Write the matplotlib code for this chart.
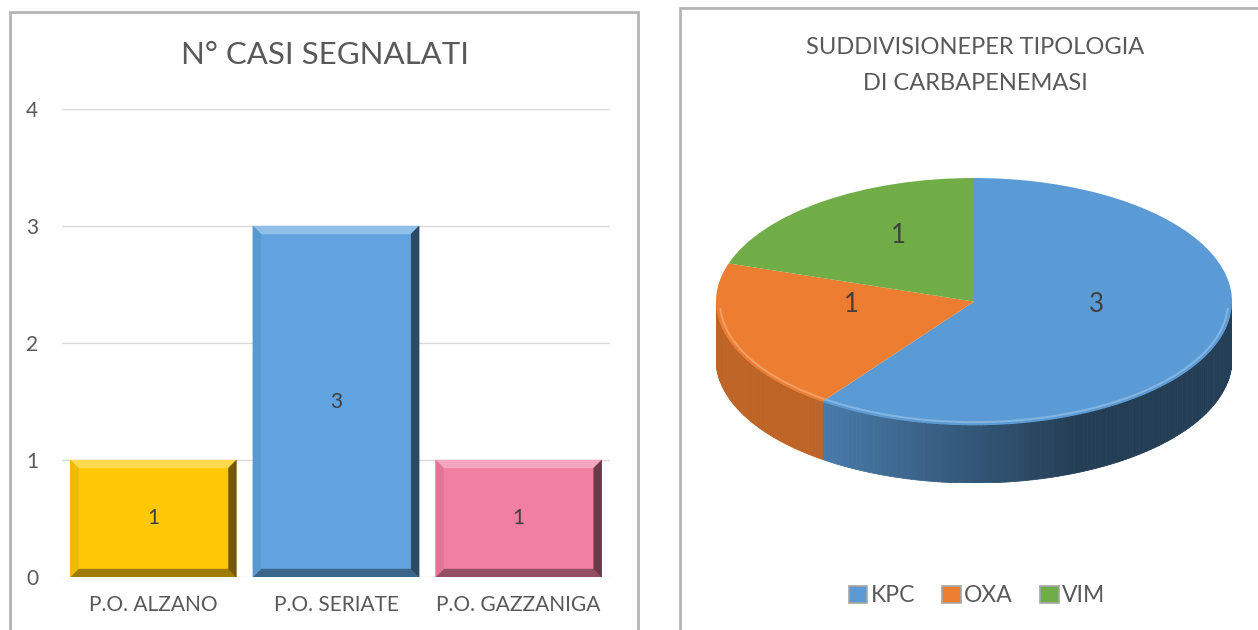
import numpy as np
import matplotlib
matplotlib.use("Agg")
import matplotlib.pyplot as plt
from matplotlib.patches import Rectangle, Polygon
from matplotlib.colors import to_rgb

plt.rcParams["font.family"] = ["Lato", "DejaVu Sans"]

# ------------------------------------------------------------
# data
# ------------------------------------------------------------
hospitals = ["P.O. ALZANO", "P.O. SERIATE", "P.O. GAZZANIGA"]
cases = [1, 3, 1]
bar_colors = ["#ffc805", "#61a3e0", "#f07fa3"]

carba_types = ["KPC", "OXA", "VIM"]
carba_counts = [3, 1, 1]
pie_colors = ["#5b9bd5", "#ed7d31", "#70ad47"]

text_col = "#595959"
W, H = 1258, 630

fig = plt.figure(figsize=(W / 100, H / 100), dpi=100)
fig.patch.set_facecolor("white")


def fig_rect(x0, y0, x1, y1):
    # pixel box (top-left origin) -> figure fraction
    return [x0 / W, (H - y1) / H, (x1 - x0) / W, (y1 - y0) / H]


# panel borders
for (x0, y0, x1, y1) in [(10, 12, 638, 640), (680, 8, 1270, 640)]:
    fig.add_artist(Rectangle((x0 / W, (H - y1) / H), (x1 - x0) / W, (y1 - y0) / H,
                             transform=fig.transFigure, fill=False,
                             edgecolor="#b4b4b4", linewidth=2))

# ------------------------------------------------------------
# bar chart
# ------------------------------------------------------------
ax = fig.add_axes(fig_rect(62, 109, 610, 577))
x = np.arange(len(hospitals))
bars = ax.bar(x, cases, width=0.91, color=bar_colors, zorder=2)
ax.set_xlim(-0.5, len(hospitals) - 0.5)
ax.set_ylim(0, 4)
ax.set_yticks(range(0, 5))
ax.set_xticks(x)
ax.set_xticklabels(hospitals, fontsize=15, color=text_col)
ax.tick_params(axis="y", labelsize=15, labelcolor=text_col, length=0, pad=17)
ax.tick_params(axis="x", length=0, pad=13)
for s in ax.spines.values():
    s.set_visible(False)
ax.grid(axis="y", color="#d9d9d9", linewidth=1, zorder=0)
ax.set_axisbelow(True)

# bevel on bars
px_x = 548 / 3.0
px_y = 468 / 4.0
bx, by = 8 / px_x, 8 / px_y


def shade(c, f):
    r, g, b = to_rgb(c)
    if f >= 1:
        return (r + (1 - r) * (f - 1), g + (1 - g) * (f - 1), b + (1 - b) * (f - 1))
    return (r * f, g * f, b * f)


for p, c in zip(bars.patches, bar_colors):
    x0, y0 = p.get_x(), p.get_y()
    x1, y1 = x0 + p.get_width(), y0 + p.get_height()
    faces = [
        ([(x0, y1), (x1, y1), (x1 - bx, y1 - by), (x0 + bx, y1 - by)], shade(c, 1.3)),
        ([(x0, y0), (x1, y0), (x1 - bx, y0 + by), (x0 + bx, y0 + by)], shade(c, 0.62)),
        ([(x0, y0), (x0, y1), (x0 + bx, y1 - by), (x0 + bx, y0 + by)], shade(c, 0.93)),
        ([(x1, y0), (x1, y1), (x1 - bx, y1 - by), (x1 - bx, y0 + by)], shade(c, 0.45)),
    ]
    for pts, fc in faces:
        ax.add_patch(Polygon(pts, closed=True, facecolor=fc, edgecolor=fc,
                             linewidth=0.3, zorder=3))
    ax.text(p.get_x() + p.get_width() / 2, p.get_height() / 2, f"{p.get_height():.0f}",
            ha="center", va="center", fontsize=15, color="#404040", zorder=4)

fig.text(325 / W, 1 - 55 / H, "N° CASI SEGNALATI", ha="center", va="center",
         fontsize=22.5, color=text_col)

# ------------------------------------------------------------
# 3D-look pie chart
# ------------------------------------------------------------
depth = 57 / 122.0
ax2 = fig.add_axes(fig_rect(716, 178, 1232, 483))
total = sum(carba_counts)
wedges, _, autotexts = ax2.pie(
    carba_counts, colors=pie_colors, startangle=90, counterclock=False,
    autopct=lambda pct: f"{pct * total / 100:.0f}", pctdistance=0.5,
    textprops=dict(fontsize=18.5, color="#404040"),
    wedgeprops=dict(linewidth=0, zorder=2))
ax2.set_aspect("auto")
ax2.set_xlim(-1, 1)
ax2.set_ylim(-1 - depth, 1)
for t in autotexts:
    tx, ty = t.get_position()
    t.set_position((tx, ty + 0.13))
    t.set_zorder(5)

# side walls (front half only)
for w, c in zip(wedges, pie_colors):
    angs = np.arange(w.theta1, w.theta2 + 0.01, 1.0)
    for a0, a1 in zip(angs[:-1], angs[1:]):
        am = np.radians((a0 + a1) / 2)
        if np.sin(am) > 0:
            continue
        r0, r1 = np.radians(a0), np.radians(a1)
        cm = np.cos(am)
        f = 0.8 if cm <= -0.6 else max(0.4, 0.8 - 0.4 * (cm + 0.6))
        fc = shade(c, f)
        pts = [(np.cos(r0), np.sin(r0)), (np.cos(r1), np.sin(r1)),
               (np.cos(r1), np.sin(r1) - depth), (np.cos(r0), np.sin(r0) - depth)]
        ax2.add_patch(Polygon(pts, closed=True, facecolor=fc, edgecolor=fc,
                              linewidth=0.6, zorder=1))

# light rim along the front edge of the top face
for w, c in zip(wedges, pie_colors):
    a = np.radians(np.arange(w.theta1, w.theta2 + 0.01, 1.0))
    a = a[np.sin(a) < -0.05]
    if len(a):
        ax2.plot(0.985 * np.cos(a), 0.975 * np.sin(a), color=shade(c, 1.25),
                 linewidth=1.5, zorder=3, solid_capstyle="butt")

leg = ax2.legend(wedges, carba_types, loc="center", ncol=3, frameon=False,
                 bbox_to_anchor=(977 / W, 1 - 596 / H), bbox_transform=fig.transFigure,
                 fontsize=16.5, handlelength=0.8, handleheight=0.8, handletextpad=0.15,
                 columnspacing=1.2, labelcolor=text_col)
for h in leg.legend_handles:
    h.set_edgecolor("#a6a6a6")
    h.set_linewidth(1.2)

fig.text(975 / W, 1 - 47 / H, "SUDDIVISIONEPER TIPOLOGIA", ha="center", va="center",
         fontsize=17, color=text_col)
fig.text(975 / W, 1 - 83 / H, "DI CARBAPENEMASI", ha="center", va="center",
         fontsize=17, color=text_col)

fig.savefig("out.png", dpi=100)
